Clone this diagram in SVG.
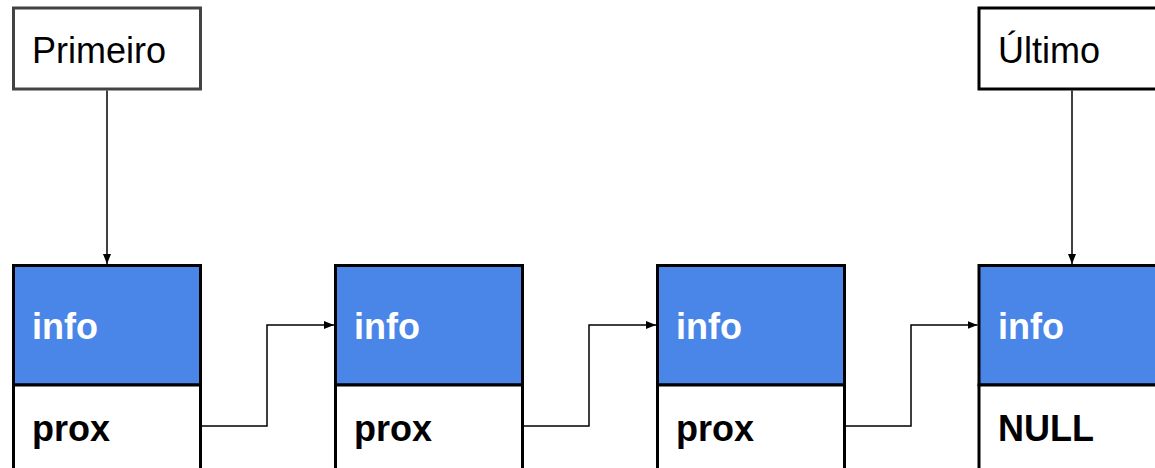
<svg xmlns="http://www.w3.org/2000/svg" width="1155" height="468" viewBox="0 0 1155 468">
<style>
.ptr{fill:#fff;stroke:#434343;stroke-width:3}
.ptr2{fill:#fff;stroke:#000;stroke-width:3}
.info{fill:#4a86e8;stroke:#000;stroke-width:3}
.cell{fill:#fff;stroke:#000;stroke-width:3}
.lbl{font-family:"Liberation Sans",Arial,sans-serif;font-size:36px;fill:#000}
.bi{font-family:"Liberation Sans",Arial,sans-serif;font-size:36px;font-weight:bold;fill:#fff}
.bp{font-family:"Liberation Sans",Arial,sans-serif;font-size:36px;font-weight:bold;fill:#000}
.con{fill:none;stroke:#000;stroke-width:1.5}
</style>
<defs>
<marker id="ah" viewBox="0 0 10 10" refX="10" refY="5" markerWidth="10" markerHeight="10" markerUnits="userSpaceOnUse" orient="auto">
<path d="M0,1 L10,5 L0,9 Z" fill="#000"/>
</marker>
</defs>
<g id="primeiro">
<rect class="ptr" x="13.5" y="8" width="187" height="81"/>
<text class="lbl" x="32" y="63">Primeiro</text>
</g>
<g id="ultimo">
<rect class="ptr2" x="979" y="8" width="200" height="81"/>
<text class="lbl" x="998" y="63">Último</text>
</g>
<g id="node1">
<rect class="info" x="13.5" y="265.5" width="187" height="119.5"/>
<rect class="cell" x="13.5" y="385" width="187" height="90"/>
<text class="bi" x="32" y="339">info</text>
<text class="bp" x="32" y="441">prox</text>
</g>
<g id="node2">
<rect class="info" x="335.5" y="265.5" width="187" height="119.5"/>
<rect class="cell" x="335.5" y="385" width="187" height="90"/>
<text class="bi" x="354" y="339">info</text>
<text class="bp" x="354" y="441">prox</text>
</g>
<g id="node3">
<rect class="info" x="657.5" y="265.5" width="187" height="119.5"/>
<rect class="cell" x="657.5" y="385" width="187" height="90"/>
<text class="bi" x="676" y="339">info</text>
<text class="bp" x="676" y="441">prox</text>
</g>
<g id="node4">
<rect class="info" x="979" y="265.5" width="200" height="119.5"/>
<rect class="cell" x="979" y="385" width="200" height="90"/>
<text class="bi" x="998" y="339">info</text>
<text class="bp" x="998" y="441">NULL</text>
</g>
<g id="connectors">
<path class="con" d="M107,90.5 V264" marker-end="url(#ah)"/>
<path class="con" d="M1072,90.5 V264" marker-end="url(#ah)"/>
<path class="con" d="M202,426 H267 V325 H334" marker-end="url(#ah)"/>
<path class="con" d="M524,426 H589 V325 H656" marker-end="url(#ah)"/>
<path class="con" d="M846,426 H911 V325 H977.5" marker-end="url(#ah)"/>
</g>
</svg>
